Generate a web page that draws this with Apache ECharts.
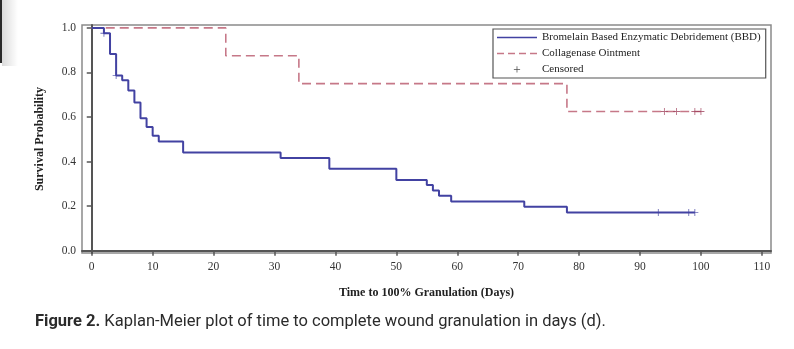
<!DOCTYPE html>
<html>
<head>
<meta charset="utf-8">
<script src="https://cdn.jsdelivr.net/npm/echarts@6/dist/echarts.min.js"></script>
<style>
html,body{margin:0;padding:0;background:#fff;}
#chart{width:794px;height:349px;}
</style>
</head>
<body>
<div id="chart"></div>
<script>
// ---- Data ----
const bbdTimes = [0, 2, 3, 4, 5, 6, 7, 8, 9, 10, 11, 15, 31, 39, 50, 55, 56, 57, 59, 71, 78, 99];
const bbdSurv  = [1, 0.976, 0.883, 0.786, 0.765, 0.719, 0.665, 0.595, 0.555, 0.516, 0.49, 0.441, 0.416, 0.368, 0.318, 0.295, 0.27, 0.247, 0.221, 0.197, 0.172, 0.172];
const colTimes = [0, 22, 34, 78, 100];
const colSurv  = [1, 0.875, 0.75, 0.625, 0.625];
const bbdCensorTimes = [2, 4, 93, 98, 99];
const bbdCensorSurv  = [0.976, 0.786, 0.172, 0.172, 0.172];
const colCensorTimes = [94, 96, 99, 100];
const colCensorSurv  = [0.625, 0.625, 0.625, 0.625];
const xTicks = [0, 10, 20, 30, 40, 50, 60, 70, 80, 90, 100, 110];
const yTicks = [0, 0.2, 0.4, 0.6, 0.8, 1.0];
const seriesNames = ['Bromelain Based Enzymatic Debridement (BBD)', 'Collagenase Ointment', 'Censored'];

const BLUE = '#4242a2';
const PINK = '#c67888';
const PINK_DARK = '#a0445e';
const PLUS = 'path://M4.4,0h1.2v4.4h4.4v1.2h-4.4v4.4h-1.2v-4.4h-4.4v-1.2h4.4z';
const PLUS_LEGEND = 'path://M-3,-3h0.05v0.05h-0.05zM13,13h0.05v0.05h-0.05zM4.4,0h1.2v4.4h4.4v1.2h-4.4v4.4h-1.2v-4.4h-4.4v-1.2h4.4z';
const SOLID_ICON = 'path://M0,0h40v1.6h-40z';
const DASH_ICON = 'path://M0,0h7v1.5h-7zM11,0h7v1.5h-7zM22,0h7v1.5h-7zM33,0h7v1.5h-7z';

const zip = (a, b) => a.map((v, i) => [v, b[i]]);
const censorData = zip(bbdCensorTimes, bbdCensorSurv).map(p => ({value: p, itemStyle: {color: BLUE}}))
  .concat(zip(colCensorTimes, colCensorSurv).map(p => ({value: p, itemStyle: {color: PINK_DARK}})));

const serif = '"Liberation Serif", "Times New Roman", serif';

const chart = echarts.init(document.getElementById('chart'), null, {renderer: 'canvas'});
chart.setOption({
  backgroundColor: '#fff',
  animation: false,
  grid: {left: 82, right: 23, top: 25, bottom: 96, show: true, borderColor: '#8a8a8a', borderWidth: 1.5, backgroundColor: 'transparent'},
  legend: {
    orient: 'vertical',
    left: 493, top: 29,
    symbolKeepAspect: true,
    data: [
      {name: seriesNames[0], icon: SOLID_ICON, itemStyle: {color: BLUE}},
      {name: seriesNames[1], icon: DASH_ICON, itemStyle: {color: PINK}},
      {name: seriesNames[2], icon: PLUS_LEGEND, itemStyle: {color: '#222'}}
    ],
    itemWidth: 40, itemHeight: 10, itemGap: 5,
    padding: [3, 5, 3, 4],
    borderColor: '#555', borderWidth: 1.2,
    textStyle: {fontFamily: serif, fontSize: 11, color: '#222'},
    selectedMode: false
  },
  xAxis: {
    type: 'value', min: -1.6, max: 111.5,
    name: 'Time to 100% Granulation (Days)', nameLocation: 'middle', nameGap: 34,
    nameTextStyle: {fontFamily: serif, fontSize: 12, fontWeight: 'bold', color: '#222'},
    axisLine: {show: true, lineStyle: {color: '#555', width: 2}},
    axisTick: {show: true, length: 5, customValues: xTicks, lineStyle: {color: '#555', width: 1.5}},
    axisLabel: {customValues: xTicks, fontFamily: serif, fontSize: 11.5, color: '#333', margin: 8},
    splitLine: {show: false}
  },
  yAxis: {
    type: 'value', min: -0.01, max: 1.013,
    name: 'Survival Probability', nameLocation: 'middle', nameGap: 36, nameRotate: 90,
    nameTextStyle: {fontFamily: serif, fontSize: 12, fontWeight: 'bold', color: '#222'},
    axisLine: {show: true, lineStyle: {color: '#555', width: 2}},
    axisTick: {show: true, length: 5, customValues: yTicks, lineStyle: {color: '#555', width: 1.5}},
    axisLabel: {customValues: yTicks, formatter: v => v.toFixed(1), fontFamily: serif, fontSize: 11.5, color: '#333', margin: 6},
    splitLine: {show: false}
  },
  series: [
    {
      name: seriesNames[1], type: 'line', step: 'end', symbol: 'none',
      data: zip(colTimes, colSurv),
      lineStyle: {color: PINK, width: 1.6, type: [9, 5]},
      itemStyle: {color: PINK}, z: 2
    },
    {
      name: seriesNames[0], type: 'line', step: 'end', symbol: 'none',
      data: zip(bbdTimes, bbdSurv),
      lineStyle: {color: BLUE, width: 2},
      itemStyle: {color: BLUE}, z: 3
    },
    {
      name: seriesNames[2], type: 'scatter', symbol: PLUS, symbolSize: 7,
      data: censorData,
      itemStyle: {color: '#222'}, z: 4
    }
  ],
  graphic: [
    {type: 'rect', left: 0, top: 0, shape: {width: 2, height: 63}, style: {fill: '#2a2a2a'}},
    {type: 'rect', left: 2, top: 0, shape: {width: 16, height: 66},
      style: {fill: new echarts.graphic.LinearGradient(0, 0, 1, 0, [{offset: 0, color: 'rgba(0,0,0,0.14)'}, {offset: 1, color: 'rgba(0,0,0,0)'}])}},
    {
      type: 'text', left: 35, top: 313,
      style: {
        text: '{b|Figure 2.} Kaplan-Meier plot of time to complete wound granulation in days (d).',
        font: '16.5px Roboto', fill: '#2b2b2b',
        rich: {b: {fontFamily: 'Roboto', fontSize: 16.5, fontWeight: 'bold', fill: '#2b2b2b'}}
      }
    }
  ]
});
</script>
</body>
</html>
